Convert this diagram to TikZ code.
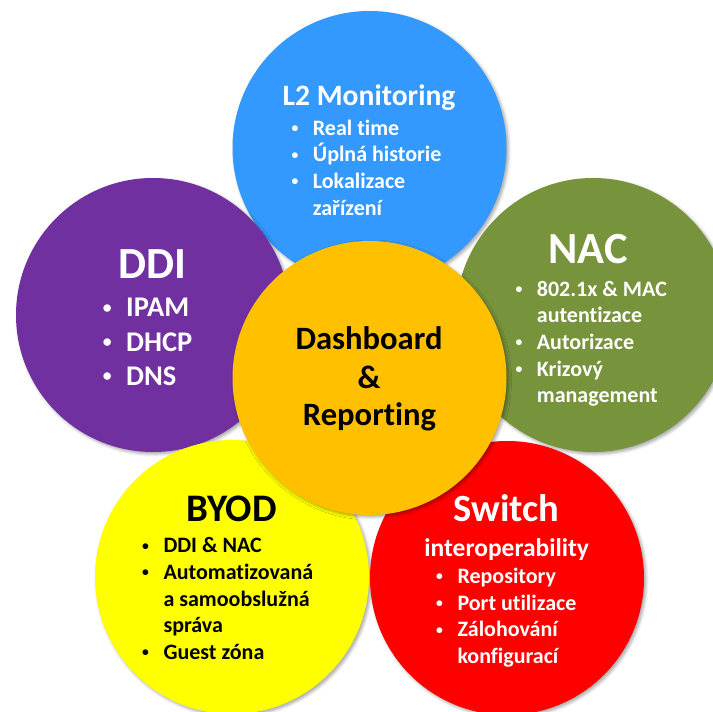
\documentclass[tikz,border=0pt]{standalone}
\usepackage{graphicx}
\usepackage{fontspec}
\setmainfont[Ligatures=NoCommon]{Carlito}
\usetikzlibrary{shadows.blur}

\definecolor{monblue}{HTML}{3399FF}
\definecolor{ddipurple}{HTML}{7030A0}
\definecolor{nacgreen}{HTML}{77933C}
\definecolor{dashorange}{HTML}{FFC000}
\definecolor{byodyellow}{HTML}{FFFF00}
\definecolor{swred}{HTML}{FF0000}

\newcommand{\bitem}{\llap{\raisebox{0.12em}{\scalebox{0.62}{\textbullet}}\hspace{14.5pt}}}

\tikzset{
  bubble/.style={circle, draw=none, inner sep=0pt, minimum size=274pt,
    blur shadow={shadow xshift=2pt, shadow yshift=-2pt, shadow blur radius=3pt,
      shadow opacity=35}},
  title/.style={anchor=base, inner sep=0pt, font=\bfseries\fontsize{#1}{#1}\selectfont},
  item/.style={anchor=base west, inner sep=0pt, font=\bfseries\fontsize{#1}{#1}\selectfont},
}

\begin{document}
\begin{tikzpicture}[x=1pt, y=-1pt]
  \useasboundingbox (0,0) rectangle (713,712);

  % outer bubbles
  \node[bubble, fill=monblue] (l2) at (369.5,148) {};
  \node[bubble, fill=ddipurple] (ddi) at (153,315) {};
  \node[bubble, fill=nacgreen] (nac) at (593,315) {};
  \node[bubble, fill=byodyellow] (byod) at (232,577) {};
  \node[bubble, fill=swred] (sw) at (507,578) {};
  % centre bubble on top
  \node[bubble, fill=dashorange] (dash) at (369.5,378) {};

  % L2 Monitoring
  \node[title=29.6, text=white] (l2title) at (369,105) {L2 Monitoring};
  \foreach \txt [count=\i] in {{\bitem Real time}, {\bitem Úplná historie},
      {\bitem Lokalizace}, {zařízení}}
    \node[item=22, text=white] (l2-\i) at (312.7,{135+26.7*(\i-1)}) {\txt};

  % DDI
  \node[title=44.5, text=white] (ddititle) at (152.5,278.3) {DDI};
  \foreach \txt [count=\i] in {IPAM, DHCP, DNS}
    \node[item=28.5, text=white] (ddi-\i) at (126,{316.7+34.3*(\i-1)}) {\bitem\txt};

  % NAC
  \node[title=44.5, text=white] (nactitle) at (588.3,263.3) {NAC};
  \foreach \txt [count=\i] in {{\bitem 802.1x \& MAC}, {autentizace},
      {\bitem Autorizace}, {\bitem Krizový}, {management}}
    \node[item=22, text=white] (nac-\i) at (536.7,{296+26.7*(\i-1)}) {\txt};

  % Dashboard & Reporting
  \node[title=32.6] (dash-1) at (369,349.3) {Dashboard};
  \node[title=32.6] (dash-2) at (369,388.3) {\&};
  \node[title=32.6] (dash-3) at (369.5,425) {Reporting};

  % BYOD
  \node[title=39] (byodtitle) at (231.7,521.7) {BYOD};
  \foreach \txt [count=\i] in {{\bitem DDI \& NAC}, {\bitem Automatizovaná},
      {a samoobslužná}, {správa}, {\bitem Guest zóna}}
    \node[item=22] (byod-\i) at (163.3,{552.7+26.7*(\i-1)}) {\txt};

  % Switch interoperability
  \node[title=38.5, text=white] (swtitle) at (506.3,521.7) {Switch};
  \node[title=25.5, text=white] (swsub) at (506.7,556) {interoperability};
  \foreach \txt [count=\i] in {{\bitem Repository}, {\bitem Port utilizace},
      {\bitem Zálohování}, {konfigurací}}
    \node[item=22, text=white] (sw-\i) at (457.3,{583.3+26.7*(\i-1)}) {\txt};
\end{tikzpicture}
\end{document}
